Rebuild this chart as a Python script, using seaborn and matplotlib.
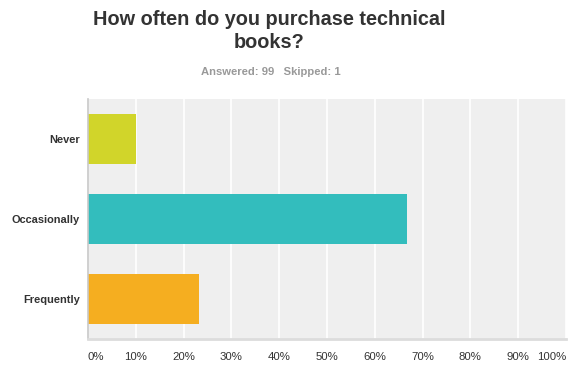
import pandas as pd
import matplotlib.pyplot as plt
import seaborn as sns

# survey answers (percent of 99 respondents)
answers = ["Never", "Occasionally", "Frequently"]
percents = [10.10, 66.67, 23.23]
colors = ["#d1d52a", "#33bdbd", "#f5ae20"]
xticks = list(range(0, 101, 10))
xtick_labels = [f"{t}%" for t in xticks]

df = pd.DataFrame({"answer": answers, "pct": percents})

sns.set_style("white")
plt.rcParams["font.family"] = ["Liberation Sans", "DejaVu Sans"]

fig = plt.figure(figsize=(5.73, 3.66), dpi=100)
ax = fig.add_axes([88 / 573, 27 / 366, 478 / 573, 240 / 366])
ax.set_facecolor("#efefef")

sns.barplot(data=df, x="pct", y="answer", hue="answer", palette=colors,
            order=answers, width=0.625, legend=False, saturation=1,
            linewidth=0, ax=ax)

ax.set_xlim(0, 100)
ax.set_ylim(2.5, -0.5)
ax.set_xticks(xticks)
ax.set_xticklabels(xtick_labels, fontsize=8.2, color="#333333")
for i, lab in enumerate(ax.get_xticklabels()):
    if i == 0:
        lab.set_ha("left")
    elif i == len(xticks) - 1:
        lab.set_ha("right")
ax.tick_params(axis="x", length=0, pad=9)
ax.tick_params(axis="y", length=0, pad=6)
for lab in ax.get_yticklabels():
    lab.set_fontweight("bold")
    lab.set_fontsize(7.9)
    lab.set_color("#333333")

ax.grid(axis="x", color="white", linewidth=1.2)
ax.set_axisbelow(True)
ax.set_xlabel("")
ax.set_ylabel("")
for side in ["top", "right"]:
    ax.spines[side].set_visible(False)
ax.spines["left"].set_color("#c8c8c8")
ax.spines["left"].set_linewidth(1.2)
ax.spines["bottom"].set_color("#dcdcdc")
ax.spines["bottom"].set_linewidth(2)

# two-line title, each line placed by its baseline
title_x = 269 / 573
fig.text(title_x, 1 - 25 / 366, "How often do you purchase technical",
         ha="center", va="baseline", fontsize=14.3, fontweight="bold",
         color="#333333")
fig.text(title_x, 1 - 48 / 366, "books?",
         ha="center", va="baseline", fontsize=14.3, fontweight="bold",
         color="#333333")
fig.text(271 / 573, 1 - 75 / 366, "Answered: 99   Skipped: 1",
         ha="center", va="baseline", fontsize=8.1, fontweight="bold",
         color="#999999")

fig.savefig("out.png", dpi=100)
